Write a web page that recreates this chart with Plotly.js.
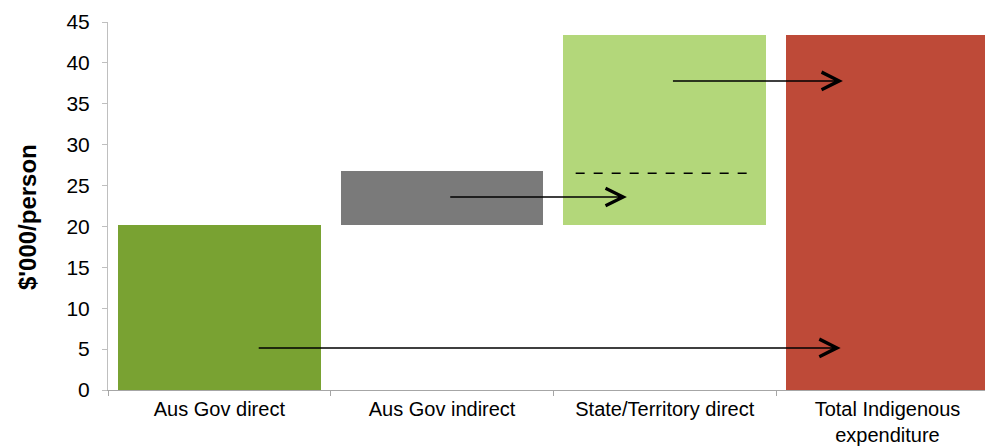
<!DOCTYPE html>
<html>
<head>
<meta charset="utf-8">
<script src="https://cdn.plot.ly/plotly-3.0.1.min.js"></script>
<style>html,body{margin:0;padding:0;background:#fff;}#chart{width:985px;height:448px;}</style>
</head>
<body>
<div id="chart"></div>
<script>
// Categories and bar values ($'000 per person)
const categories = ["Aus Gov direct", "Aus Gov indirect", "State/Territory direct", "Total Indigenous<br>expenditure"];
const barBase = [0, 20.2, 20.2, 0];
const barHeight = [20.2, 6.6, 23.2, 43.4];
const barColors = ["#79A232", "#7A7A7A", "#B3D77A", "#BE4A38"];
const yTicks = [0, 5, 10, 15, 20, 25, 30, 35, 40, 45];
const yTitle = "$'000/person";

// Arrows (category index from -> to, at value level)
const arrowFrom = [0.17, 1.03, 2.03];
const arrowTo = [2.79, 1.83, 2.80];
const arrowLevel = [5.15, 23.6, 37.8];

// Dashed reference line
const dashFrom = 1.60;
const dashTo = 2.39;
const dashLevel = 26.5;

const FONT = "Liberation Sans, Arial, sans-serif";

const trace = {
  type: "bar",
  x: categories,
  y: barHeight,
  base: barBase,
  width: 0.91,
  marker: {color: barColors, line: {width: 0}},
  hoverinfo: "skip"
};

const annotations = arrowFrom.map((f, i) => ({
  xref: "x", yref: "y", axref: "x", ayref: "y",
  x: arrowTo[i], y: arrowLevel[i],
  ax: f, ay: arrowLevel[i],
  text: "", showarrow: true,
  arrowhead: 5, arrowsize: 2.3, arrowwidth: 1.5, arrowcolor: "#000",
  standoff: 0, startstandoff: 0
}));

// y-axis title placed as a rotated annotation
annotations.push({
  xref: "paper", yref: "paper",
  x: -0.0924, y: 0.47,
  xanchor: "center", yanchor: "middle",
  textangle: -90,
  text: yTitle, showarrow: false,
  font: {size: 24, family: FONT, color: "#000", weight: "bold"}
});

const layout = {
  width: 985, height: 448,
  margin: {l: 108, r: 0, t: 22, b: 58},
  paper_bgcolor: "#fff", plot_bgcolor: "#fff",
  showlegend: false,
  font: {family: FONT, color: "#000"},
  bargap: 0,
  xaxis: {
    type: "category",
    range: [-0.5, 3.438],
    showgrid: false, zeroline: false,
    showline: true, linecolor: "#A6A6A6", linewidth: 1,
    ticks: "outside", tickson: "boundaries", ticklen: 5, tickcolor: "#A6A6A6",
    ticklabelstandoff: 1,
    tickfont: {size: 20, family: FONT, color: "#000"},
    fixedrange: true
  },
  yaxis: {
    range: [0, 45],
    tickvals: yTicks,
    showgrid: false, zeroline: false,
    showline: true, linecolor: "#BFBFBF", linewidth: 1,
    ticks: "outside", ticklen: 5, tickcolor: "#BFBFBF",
    ticklabelstandoff: 8,
    tickfont: {size: 21, family: FONT, color: "#000"},
    fixedrange: true
  },
  shapes: [{
    type: "line", xref: "x", yref: "y",
    x0: dashFrom, x1: dashTo, y0: dashLevel, y1: dashLevel,
    line: {color: "#000", width: 1.5, dash: "dash"}
  }],
  annotations: annotations
};

Plotly.newPlot("chart", [trace], layout, {staticPlot: true, displayModeBar: false});
</script>
</body>
</html>
